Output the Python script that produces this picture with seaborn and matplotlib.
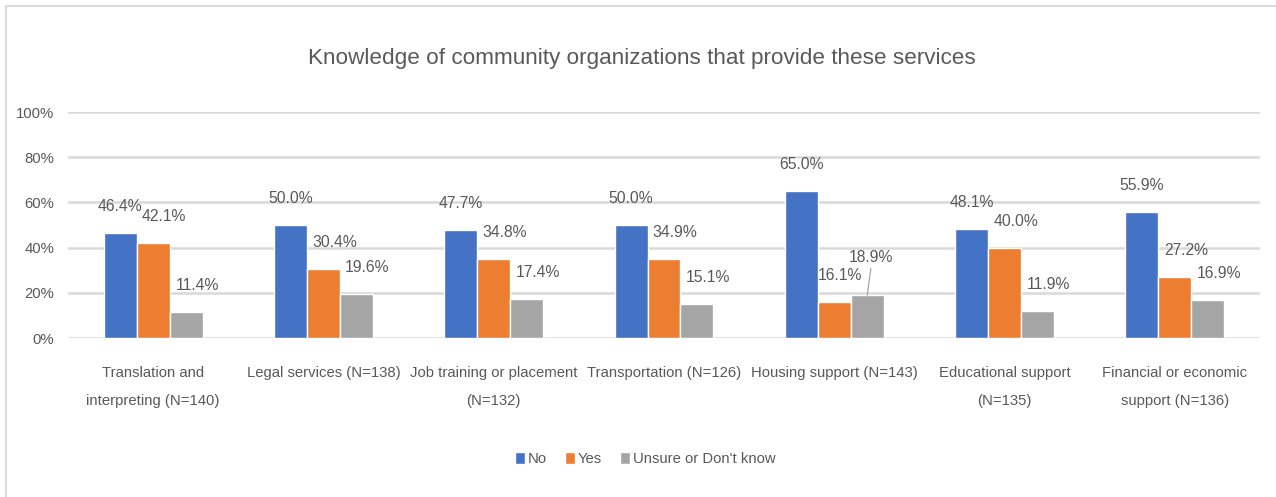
import numpy as np
import pandas as pd
import matplotlib
matplotlib.use('Agg')
from matplotlib import pyplot as plt
from matplotlib.lines import Line2D
from matplotlib.ticker import PercentFormatter
import seaborn as sns


services = [
    'Translation and\ninterpreting (N=140)',
    'Legal services (N=138)',
    'Job training or placement\n(N=132)',
    'Transportation (N=126)',
    'Housing support (N=143)',
    'Educational support\n(N=135)',
    'Financial or economic\nsupport (N=136)',
]
responses = ['No', 'Yes', "Unsure or Don't know"]
no_pct = [46.4, 50.0, 47.7, 50.0, 65.0, 48.1, 55.9]
yes_pct = [42.1, 30.4, 34.8, 34.9, 16.1, 40.0, 27.2]
unsure_pct = [11.4, 19.6, 17.4, 15.1, 18.9, 11.9, 16.9]
y_ticks = [0, 20, 40, 60, 80, 100]
title = 'Knowledge of community organizations that provide these services'

colors = ['#4472C4', '#ED7D31', '#A5A5A5']
text_color = '#595959'
grid_color = '#D9D9D9'

df = pd.DataFrame({
    'service': services * len(responses),
    'response': np.repeat(responses, len(services)),
    'pct': no_pct + yes_pct + unsure_pct,
})

sns.set_style('white')
plt.rcParams['font.family'] = ['Liberation Sans', 'DejaVu Sans']
plt.rcParams['text.color'] = text_color

W, H = 1276, 497
fs = 10.7
fig = plt.figure(figsize=(W / 100, H / 100), dpi=100)
ax = fig.add_axes([68 / W, 159 / H, 1192 / W, 226 / H])

sns.barplot(
    data=df, x='service', y='pct', hue='response',
    order=services, hue_order=responses, palette=colors,
    saturation=1, width=0.58, gap=0, errorbar=None, ax=ax
)

ax.set_xlim(-0.5, len(services) - 0.5)
ax.set_ylim(0, 100)
ax.set_yticks(y_ticks)
ax.yaxis.set_major_formatter(PercentFormatter(100, decimals=0))
ax.set_xlabel('')
ax.set_ylabel('')
for side in ['top', 'right', 'left', 'bottom']:
    ax.spines[side].set_visible(False)
ax.yaxis.grid(True, color=grid_color, lw=1.8)
ax.set_axisbelow(True)
ax.tick_params(axis='y', length=0, pad=10, labelsize=fs, labelcolor=text_color)
ax.tick_params(axis='x', length=0, pad=20, labelsize=fs, labelcolor=text_color)
for lbl in ax.get_xticklabels():
    lbl.set_linespacing(2.3)

# data labels, the non-blue ones sit a bit to the right like in the source
label_dx = [0, 8, 8]
for k, bars in enumerate(ax.containers):
    for i, bar in enumerate(bars):
        v = bar.get_height()
        x = bar.get_x() + bar.get_width() / 2
        dx, dy = label_dx[k], 19
        arrow = None
        if i == 4 and k == 1:
            dx = 4
        if i == 4 and k == 2:
            dx, dy = 3, 27
            arrow = dict(arrowstyle='-', color='#A6A6A6', lw=0.9,
                         shrinkA=0, shrinkB=0, relpos=(0.5, 0.05))
        ax.annotate(
            '%.1f%%' % v, xy=(x, v), xytext=(dx, dy),
            textcoords='offset points', ha='center', va='center',
            fontsize=11.3, color=text_color, arrowprops=arrow
        )

sns.move_legend(
    ax, 'center', bbox_to_anchor=(645 / W, 38 / H),
    bbox_transform=fig.transFigure, ncol=3, frameon=False, title=None,
    fontsize=fs, labelcolor=text_color, handlelength=0.67,
    handleheight=0.94, handletextpad=0.2, columnspacing=1.2
)

fig.text(642 / W, (H - 64) / H, title, ha='center', va='baseline',
         fontsize=16.2, color=text_color)

# chart frame (only top and left edges are visible in the source)
fig.add_artist(Line2D([6 / W, 1], [1 - 6 / H] * 2, transform=fig.transFigure,
                      color=grid_color, lw=1.5))
fig.add_artist(Line2D([6 / W] * 2, [0, 1 - 6 / H], transform=fig.transFigure,
                      color=grid_color, lw=1.5))

fig.savefig('out.png', dpi=100)
